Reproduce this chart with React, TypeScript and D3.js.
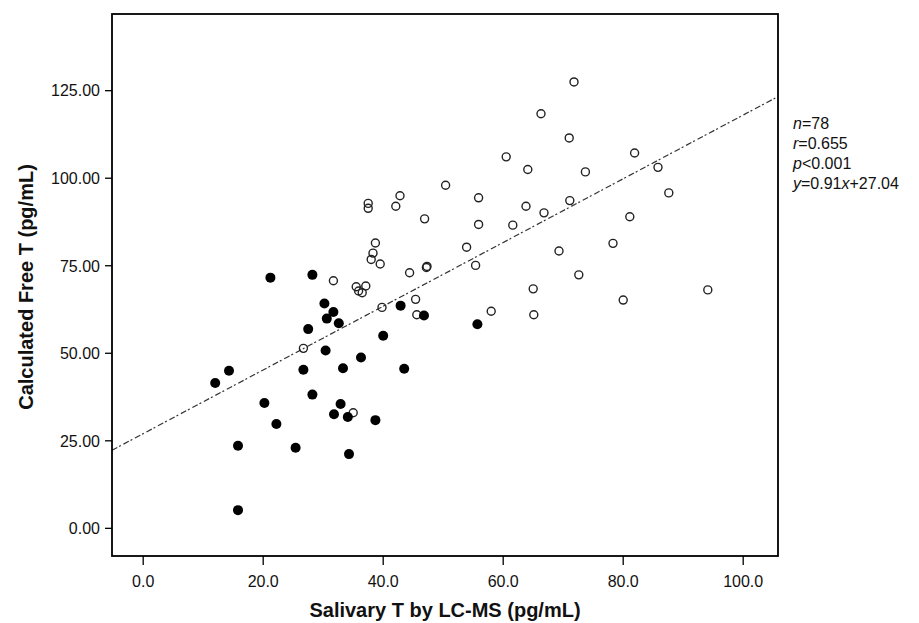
import React from "react";
import * as d3 from "d3";

// Salivary T (x) vs calculated free T (y)
const filledPoints: [number, number][] = [
  [12.0, 41.5], [14.3, 45.0], [21.2, 71.6], [28.2, 72.4], [30.2, 64.2], [31.7, 61.8],
  [30.6, 59.9], [32.6, 58.6], [27.5, 56.9], [40.0, 55.0], [30.4, 50.8], [36.3, 48.8],
  [26.7, 45.3], [33.3, 45.7], [43.5, 45.6], [28.2, 38.2], [20.2, 35.8], [32.9, 35.5],
  [31.8, 32.6], [34.1, 31.8], [38.7, 30.9], [22.2, 29.8], [15.8, 23.6], [25.4, 23.0],
  [34.3, 21.2], [15.8, 5.2], [42.9, 63.6], [46.8, 60.8], [55.7, 58.3],
];

const openPoints: [number, number][] = [
  [71.8, 127.5], [66.3, 118.4], [71.0, 111.5], [81.9, 107.2], [60.5, 106.1], [64.1, 102.5],
  [73.7, 101.8], [85.8, 103.1], [50.4, 98.0], [87.6, 95.8], [55.9, 94.4], [42.8, 95.0],
  [42.1, 92.0], [37.5, 92.8], [37.5, 91.4], [63.8, 92.0], [71.1, 93.6], [66.8, 90.1],
  [46.9, 88.4], [81.1, 89.0], [55.9, 86.8], [61.6, 86.6], [38.7, 81.5], [78.3, 81.4],
  [53.9, 80.3], [69.3, 79.2], [38.3, 78.6], [38.0, 76.8], [39.5, 75.5], [55.4, 75.1],
  [47.2, 74.5], [47.3, 74.8], [44.4, 73.0], [72.6, 72.4], [31.7, 70.7], [35.5, 69.0],
  [37.1, 69.2], [35.9, 67.8], [36.5, 67.3], [65.0, 68.4], [94.1, 68.1], [80.0, 65.2],
  [45.4, 65.4], [39.8, 63.1], [58.0, 62.0], [65.1, 61.0], [45.6, 61.0], [26.7, 51.4],
  [35.0, 33.0],
];

const xTicks = [0, 20, 40, 60, 80, 100];
const yTicks = [0, 25, 50, 75, 100, 125];
const xDomain: [number, number] = [-5.2, 105.8];
const yDomain: [number, number] = [-7.9, 146.9];
const slope = 0.91;
const intercept = 27.04;
const statsLines = [
  { v: "n", rest: "=78" },
  { v: "r", rest: "=0.655" },
  { v: "p", rest: "<0.001" },
];

const W = 919;
const H = 623;
const L = 112, R = 778, T = 14, B = 556;
const FONT = "'Liberation Sans', Arial, Helvetica, sans-serif";

export default function App() {
  const x = d3.scaleLinear().domain(xDomain).range([L, R]);
  const y = d3.scaleLinear().domain(yDomain).range([B, T]);
  const fx = d3.format(".1f");
  const fy = d3.format(".2f");
  const line = d3
    .line<number>()
    .x((d) => x(d))
    .y((d) => y(slope * d + intercept));

  return (
    <svg
      width={W}
      height={H}
      style={{ position: "absolute", left: 0, top: 0, background: "#fff" }}
      fontFamily={FONT}
    >
      <rect x={0} y={0} width={W} height={H} fill="#fff" />
      {/* regression line */}
      <path
        d={line(xDomain) || ""}
        fill="none"
        stroke="#333"
        strokeWidth={1.2}
        strokeDasharray="6 2 2 3"
      />
      {/* open circles */}
      {openPoints.map((p, i) => (
        <circle
          key={"o" + i}
          cx={x(p[0])}
          cy={y(p[1])}
          r={4}
          fill="none"
          stroke="#222"
          strokeWidth={1.4}
        />
      ))}
      {/* filled circles */}
      {filledPoints.map((p, i) => (
        <circle key={"f" + i} cx={x(p[0])} cy={y(p[1])} r={5} fill="#000" />
      ))}
      {/* frame */}
      <rect x={L} y={T} width={R - L} height={B - T} fill="none" stroke="#000" strokeWidth={1.8} />
      {/* y axis ticks */}
      {yTicks.map((t) => (
        <g key={"y" + t}>
          <line x1={L - 7} x2={L} y1={y(t)} y2={y(t)} stroke="#000" strokeWidth={1.3} />
          <text x={L - 12} y={y(t)} dy="0.36em" textAnchor="end" fontSize={16} fill="#111">
            {fy(t)}
          </text>
        </g>
      ))}
      {/* x axis ticks */}
      {xTicks.map((t) => (
        <g key={"x" + t}>
          <line x1={x(t)} x2={x(t)} y1={B} y2={B + 9} stroke="#000" strokeWidth={1.3} />
          <text x={x(t)} y={587} textAnchor="middle" fontSize={16} fill="#111">
            {fx(t)}
          </text>
        </g>
      ))}
      {/* axis titles */}
      <text x={(L + R) / 2} y={617} textAnchor="middle" fontSize={20} fontWeight="bold" fill="#111">
        Salivary T by LC-MS (pg/mL)
      </text>
      <text
        transform={`translate(33, ${(T + B) / 2 + 2}) rotate(-90)`}
        textAnchor="middle"
        fontSize={20}
        fontWeight="bold"
        fill="#111"
      >
        Calculated Free T (pg/mL)
      </text>
      {/* stats */}
      {statsLines.map((s, i) => (
        <text key={"s" + i} x={793} y={129 + i * 20} fontSize={16} fill="#111">
          <tspan fontStyle="italic">{s.v}</tspan>
          {s.rest}
        </text>
      ))}
      <text x={793} y={189} fontSize={16} fill="#111">
        <tspan fontStyle="italic">y</tspan>
        {"=" + slope.toFixed(2)}
        <tspan fontStyle="italic">x</tspan>
        {"+" + intercept.toFixed(2)}
      </text>
    </svg>
  );
}
